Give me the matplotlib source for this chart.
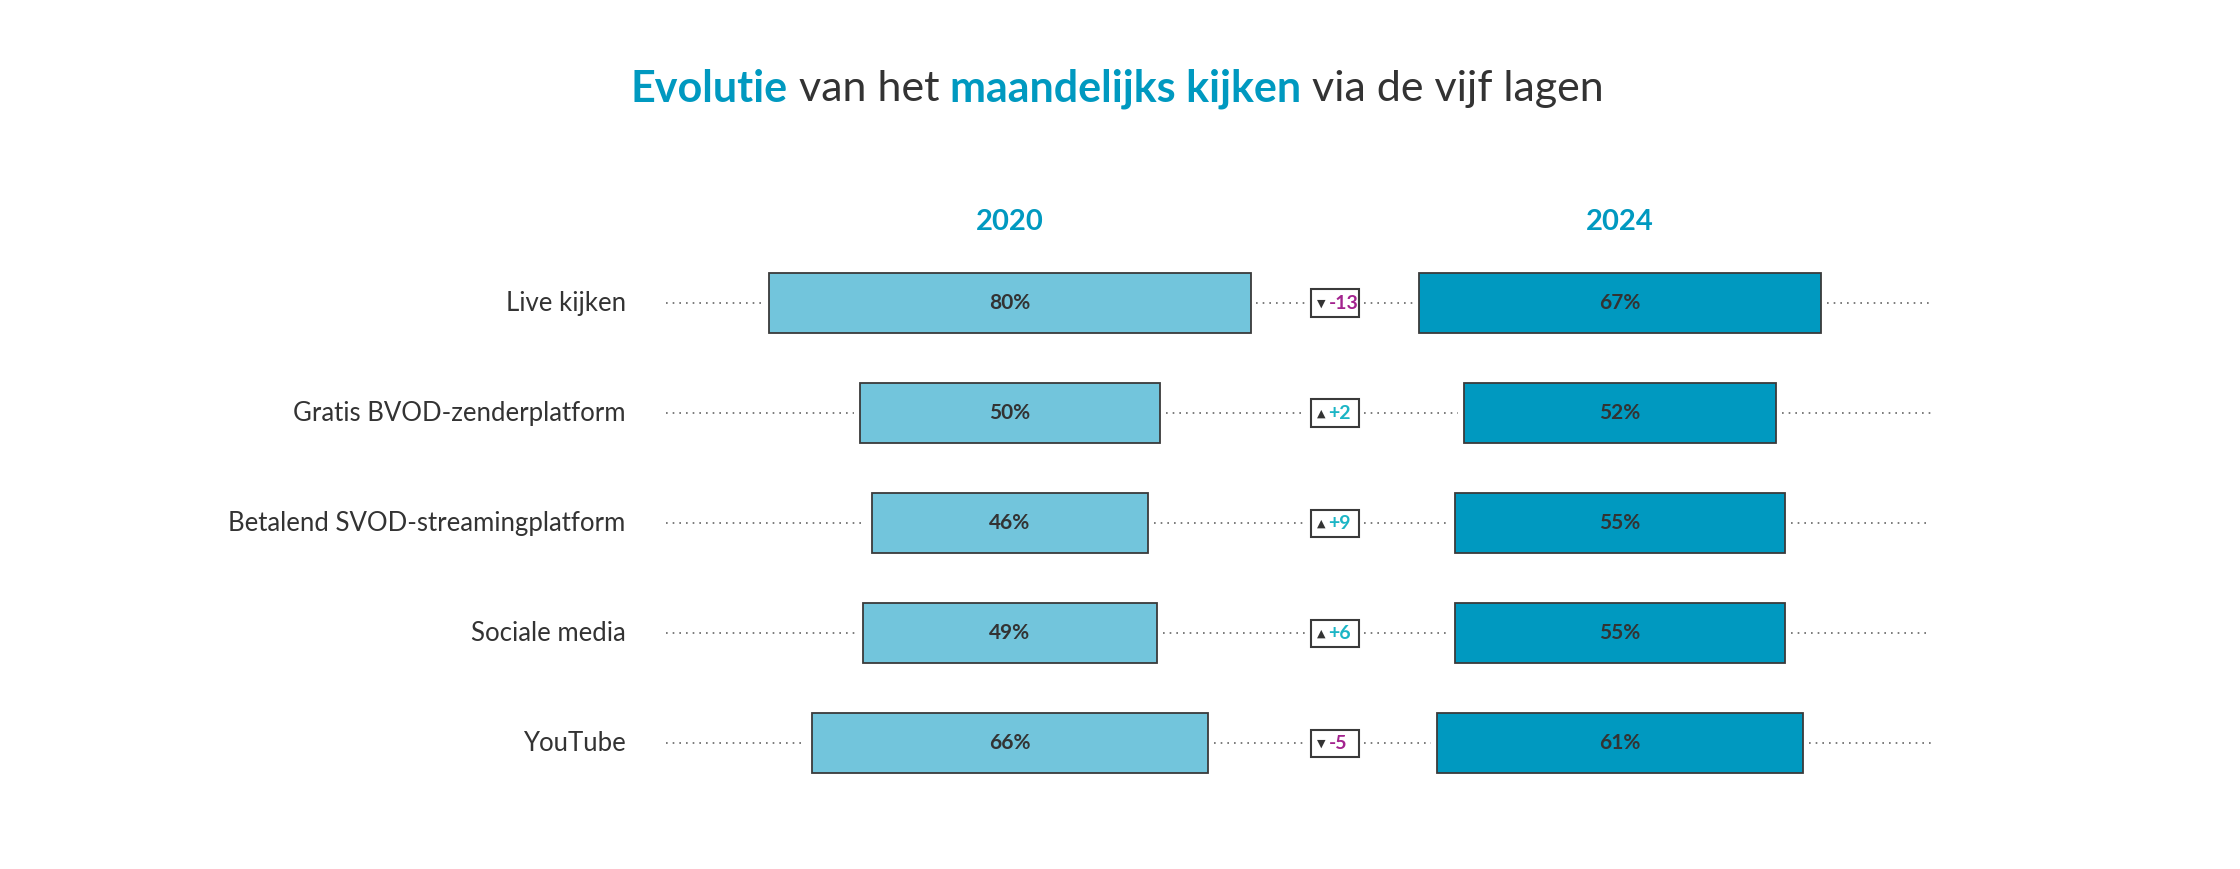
import matplotlib
matplotlib.use("Agg")
import matplotlib.pyplot as plt
from matplotlib.patches import Rectangle

categories = ["Live kijken", "Gratis BVOD-zenderplatform", "Betalend SVOD-streamingplatform", "Sociale media", "YouTube"]
v2020 = [80, 50, 46, 49, 66]
v2024 = [67, 52, 55, 55, 61]
years = ["2020", "2024"]

C20, C24 = "#72C5DC", "#0099C0"
DARK = "#333333"; EDGE = "#3a3a3a"
POS, NEG = "#1BB5C5", "#A3238E"
FONT = "Lato"

fig = plt.figure(figsize=(22.4, 8.69), dpi=100)
ax = fig.add_axes([0, 0, 1, 1])
ax.set_xlim(0, 1568); ax.set_ylim(608, 0); ax.axis("off")

scale = 4.21
cx = [707, 1134]
rows = [212, 289, 366, 443, 520]
h = 42
boxL, boxR = 918, 951
gap = 4

for ys, y in enumerate(rows):
    a, b = v2020[ys], v2024[ys]
    l1 = cx[0] - a*scale/2; r1 = cx[0] + a*scale/2
    l2 = cx[1] - b*scale/2; r2 = cx[1] + b*scale/2
    ax.barh(y, a*scale, left=l1, height=h, color=C20, edgecolor=EDGE, linewidth=1.3, zorder=2)
    ax.barh(y, b*scale, left=l2, height=h, color=C24, edgecolor=EDGE, linewidth=1.3, zorder=2)
    for x0, x1 in [(466, l1-gap), (r1+gap, boxL-gap), (boxR+gap, l2-gap), (r2+gap, 1352)]:
        ax.plot([x0, x1], [y, y], ls=(0, (1, 3)), color="#666666", lw=1.2, zorder=1)
    ax.text(cx[0], y, f"{a}%", ha="center", va="center", fontsize=15, fontweight="bold", color=DARK, family=FONT)
    ax.text(cx[1], y, f"{b}%", ha="center", va="center", fontsize=15, fontweight="bold", color=DARK, family=FONT)
    ax.text(438, y, categories[ys], ha="right", va="center", fontsize=18.5, color=DARK, family=FONT)
    d = b - a
    ax.add_patch(Rectangle((boxL, y-9.5), boxR-boxL, 19, facecolor="white", edgecolor=EDGE, lw=1.5, zorder=3))
    ax.text(boxL+7, y+0.5, "▲" if d > 0 else "▼", ha="center", va="center", fontsize=8, color=DARK, family="DejaVu Sans", zorder=4)
    ax.text(boxL+12, y, f"{d:+d}" if d > 0 else f"-{abs(d)}", ha="left", va="center", fontsize=14, fontweight="bold",
            color=POS if d > 0 else NEG, family=FONT, zorder=4)

for x, yr in zip(cx, years):
    ax.text(x, 155, yr, ha="center", va="center", fontsize=21, fontweight="bold", color=C24, family=FONT)

# title with mixed styles
parts = [("Evolutie", True), (" van het ", False), ("maandelijks kijken", True), (" via de vijf lagen", False)]
fig.canvas.draw()
r = fig.canvas.get_renderer()
objs = []
for s, bold in parts:
    t = ax.text(0, 62, s, ha="left", va="center", fontsize=31, fontweight="bold" if bold else "normal",
                color=C24 if bold else DARK, family=FONT)
    objs.append(t)
widths = [t.get_window_extent(r).width for t in objs]
total = sum(widths)
px_per_unit = fig.get_figwidth()*fig.dpi/1568
x = 782 - total/px_per_unit/2
for t, w in zip(objs, widths):
    t.set_x(x); x += w/px_per_unit

fig.savefig("out.png", dpi=100, facecolor="white")
